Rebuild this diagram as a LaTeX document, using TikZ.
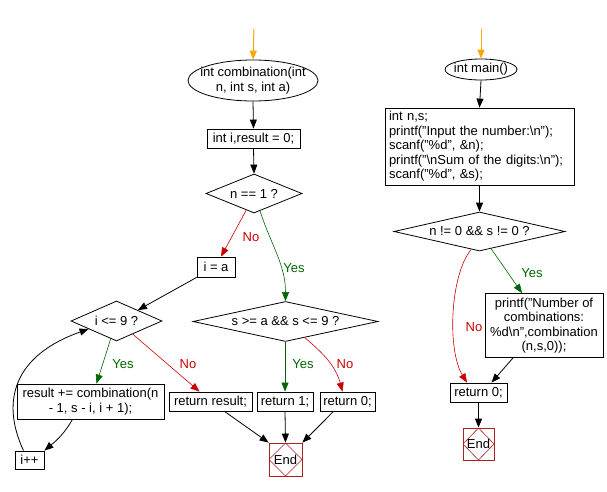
\documentclass[tikz,border=0pt]{standalone}
\usepackage{fontspec}
\setmainfont{Liberation Sans}
\usetikzlibrary{shapes.geometric,arrows.meta}
\definecolor{nored}{RGB}{204,0,0}
\definecolor{yesgreen}{RGB}{0,102,0}
\definecolor{startor}{RGB}{255,165,0}
\definecolor{endred}{RGB}{170,34,34}
\begin{document}
\begin{tikzpicture}[x=1pt,y=1pt,
  font=\fontsize{13}{14.5}\selectfont,
  sz/.style 2 args={minimum width=#1pt, minimum height=#2pt},
  box/.style={draw, line width=0.8pt, inner sep=0pt, align=center},
  dia/.style={draw, shape=diamond, inner sep=-3pt, line width=0.8pt},
  oval/.style={draw, shape=ellipse, inner ysep=0pt, line width=0.8pt, align=center},
  endbox/.style={draw=endred, line width=0.8pt, inner sep=0pt,
    path picture={\draw[endred, line width=0.6pt]
      (path picture bounding box.north) -- (path picture bounding box.east) --
      (path picture bounding box.south) -- (path picture bounding box.west) -- cycle;}},
  arr/.style={-{Triangle[length=9pt,width=7pt]}, line width=0.8pt},
  startarr/.style={arr, draw=startor, fill=startor, line width=1pt},
  noarr/.style={arr, draw=nored, line width=0.6pt},
  yesarr/.style={arr, draw=yesgreen, line width=0.6pt},
  nolbl/.style={text=nored},
  yeslbl/.style={text=yesgreen}
]
\fill[white] (0,0) rectangle (607,-492);
\useasboundingbox (0,0) rectangle (607,-492);

% ---------- left chart ----------
\coordinate (o1) at (254,-29);
\node[oval, inner xsep=-8pt, sz={130}{41}] (e1) at (253,-80.5) {int combination(int\\n, int s, int a)};
\node[box, sz={93}{19}] (b1) at (253.5,-138.5) {int i,result = 0;};
\node[dia, sz={96}{39}, aspect=2.46] (d1) at (254,-193.5) {n == 1 ?};
\node[box, sz={38}{20}] (b2) at (216,-267) {i = a};
\node[dia, sz={91}{40}, aspect=2.3] (d2) at (116.5,-321) {i <= 9 ?};
\node[dia, sz={185}{40}, aspect=4.6] (d3) at (285.5,-321.5) {s >= a \&\& s <= 9 ?};
\node[box, sz={147}{35}] (b3) at (90.5,-401.5) {result += combination(n\\- 1, s - i, i + 1);};
\node[box, sz={83}{19}] (b4) at (210.5,-401.5) {return result;};
\node[box, sz={56}{19}] (b5) at (285,-401.5) {return 1;};
\node[box, sz={55}{19}] (b6) at (347.5,-401.5) {return 0;};
\node[endbox, sz={33}{33}] (end1) at (285.5,-459.5) {End};
\node[box, sz={29}{18}] (b7) at (29.5,-460) {i++};

\draw[startarr] (o1) -- (e1.north);
\draw[arr] (e1.south) -- (b1.north);
\draw[arr] (b1.south) -- (d1.north);
\draw[noarr] (d1.245) -- ([xshift=5pt]b2.north);
\node[nolbl] (l1) at (251,-237) {No};
\draw[yesarr] (d1.289) to[out=-72,in=90] (d3.north);
\node[yeslbl] (l2) at (294,-268) {Yes};
\draw[arr] (b2.south west) -- (d2.27);
\draw[yesarr] (d2.252) -- ([xshift=6pt]b3.north);
\node[yeslbl] (l3) at (123,-364) {Yes};
\draw[noarr] (d2.321) -- ([xshift=-11pt]b4.north);
\node[nolbl] (l4) at (188,-364) {No};
\draw[yesarr] (b5.north |- d3.south) -- (b5.north);
\node[yeslbl] (l5) at (303,-364) {Yes};
\draw[noarr] (d3.320) to[out=-40,in=105] ([xshift=-5pt]b6.north);
\node[nolbl] (l6) at (345,-364) {No};
\draw[arr] ([xshift=14pt]b4.south) -- (end1.north west);
\draw[arr] (b5.south) -- (end1.north);
\draw[arr] ([xshift=-14pt]b6.south) -- (end1.north east);
\draw[arr] ([xshift=-18pt]b3.south) to[out=-120,in=40] (b7.north east);
\draw[arr] ([xshift=-6pt]b7.north) .. controls (0,-400) and (15,-355) .. (d2.196);

% ---------- right chart ----------
\coordinate (o2) at (481,-29);
\node[oval, inner xsep=-5pt, sz={72}{21}] (e2) at (481,-69.5) {int main()};
\node[box, sz={189}{77}, align=left, text width=181pt] (b8) at (479.5,-146.5)
  {int n,s;\\printf("Input the number:\textbackslash n");\\scanf("\%d", \&n);\\printf("\textbackslash nSum of the digits:\textbackslash n");\\scanf("\%d", \&s);};
\node[dia, sz={171}{39}, aspect=4.4] (d4) at (479.5,-231.5) {n != 0 \&\& s != 0 ?};
\node[box, sz={118}{64}] (b9) at (544,-325.5) {printf("Number of\\combinations:\\\%d\textbackslash n",combination\\(n,s,0));};
\node[box, sz={57}{19}] (b10) at (478.5,-392.5) {return 0;};
\node[endbox, sz={31}{32}] (end2) at (478.5,-444) {End};

\draw[startarr] (o2) -- (e2.north);
\draw[arr] (e2.south) -- (b8.north);
\draw[arr] (b8.south) -- (d4.north);
\draw[yesarr] (d4.304) -- ([xshift=-22pt]b9.north);
\node[yeslbl] (l7) at (532,-273) {Yes};
\draw[noarr] (d4.245) .. controls (450,-275) and (447,-350) .. ([xshift=-11.5pt]b10.north);
\node[nolbl] (l8) at (474,-327) {No};
\draw[arr] ([xshift=-31pt]b9.south) -- ([xshift=13pt]b10.north);
\draw[arr] (b10.south) -- (end2.north);
\end{tikzpicture}
\end{document}
